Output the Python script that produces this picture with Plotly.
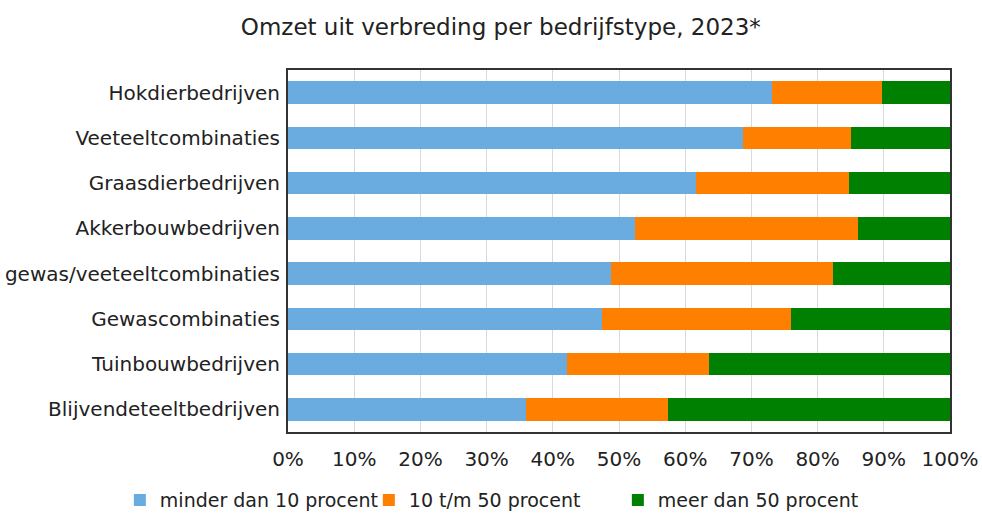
import plotly.graph_objects as go

categories = ["Hokdierbedrijven", "Veeteeltcombinaties", "Graasdierbedrijven", "Akkerbouwbedrijven",
              "gewas/veeteeltcombinaties", "Gewascombinaties", "Tuinbouwbedrijven", "Blijvendeteeltbedrijven"]
minder_dan_10 = [73.1, 68.8, 61.6, 52.4, 48.8, 47.5, 42.2, 36.0]
tm_10_50 = [16.7, 16.2, 23.1, 33.7, 33.5, 28.5, 21.4, 21.4]
meer_dan_50 = [10.2, 15.0, 15.3, 13.9, 17.7, 24.0, 36.4, 42.6]
series_names = ["minder dan 10 procent", "10 t/m 50 procent", "meer dan 50 procent"]
colors = ["#6aabe0", "#ff7f00", "#008000"]

fig = go.Figure()
for name, vals, c in zip(series_names, [minder_dan_10, tm_10_50, meer_dan_50], colors):
    fig.add_trace(go.Bar(y=categories, x=vals, name=name, orientation="h",
                         marker=dict(color=c, line=dict(width=0)), width=0.5))

font_family = "DejaVu Sans, Verdana, sans-serif"
fig.update_layout(
    barmode="stack",
    width=982, height=513,
    paper_bgcolor="white", plot_bgcolor="white",
    margin=dict(l=288, r=32, t=70, b=81, autoexpand=False),
    font=dict(family=font_family, size=20, color="#222222"),
    title=dict(text="Omzet uit verbreding per bedrijfstype, 2023*", x=0.51, xanchor="center",
               yref="container", y=0.947, yanchor="middle", font=dict(size=23, color="#222222")),
    xaxis=dict(range=[0, 100], dtick=10, ticksuffix="%", showgrid=True, gridcolor="#d9d9d9",
               gridwidth=1, zeroline=False, showline=True, linecolor="#333333", linewidth=2,
               mirror=True, ticks="", tickfont=dict(size=20), ticklabelstandoff=8),
    yaxis=dict(autorange="reversed", showline=True, linecolor="#333333", linewidth=2,
               mirror=True, ticks="", ticklabelstandoff=2, tickfont=dict(size=20)),
    legend=dict(orientation="h", x=-0.254, xanchor="left",
                y=-0.188, yanchor="middle",
                font=dict(size=19), itemwidth=30, entrywidth=204, entrywidthmode="pixels",
                traceorder="normal"),
    bargap=0.5,
)

fig.write_html("out.html", config={"displayModeBar": False},
               post_script="document.body.style.margin='0';document.body.style.padding='0';")
